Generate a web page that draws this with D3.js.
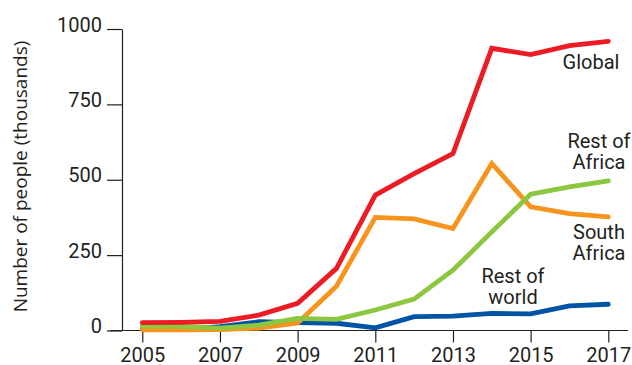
<!DOCTYPE html>
<html>
<head>
<meta charset="utf-8">
<script src="https://cdn.jsdelivr.net/npm/d3@7/dist/d3.min.js"></script>
<style>
  html, body { margin: 0; padding: 0; background: #fff; }
  svg { display: block; }
</style>
</head>
<body>
<svg id="chart" width="632" height="365"></svg>
<script>
const years = [2005, 2006, 2007, 2008, 2009, 2010, 2011, 2012, 2013, 2014, 2015, 2016, 2017];
const globalVals      = [26, 27, 30, 51, 90, 206, 449, 520, 587, 936, 915, 945, 959];
const southAfrica     = [2, 2, 3, 8, 25, 147, 375, 370, 338, 554, 410, 388, 377];
const restOfAfrica    = [15, 14, 8, 18, 40, 37, 68, 104, 200, 327, 452, 476, 496];
const restOfWorld     = [4, 4, 13, 29, 26, 24, 9, 46, 48, 57, 55, 82, 87];
const xTickValues = [2005, 2007, 2009, 2011, 2013, 2015, 2017];
const yTickValues = [0, 250, 500, 750, 1000];
const yAxisTitle = "Number of people (thousands)";

const series = [
  { name: "Rest of world", values: restOfWorld,  color: "#0054A6", label: ["Rest of", "world"],  lx: 513, ly: 283 },
  { name: "South Africa",  values: southAfrica,  color: "#F7941D", label: ["South", "Africa"],   lx: 599, ly: 239 },
  { name: "Rest of Africa",values: restOfAfrica, color: "#8DC63F", label: ["Rest of", "Africa"], lx: 599, ly: 148 },
  { name: "Global",        values: globalVals,   color: "#ED1C24", label: ["Global"],            lx: 591, ly: 69 }
];

const svg = d3.select("#chart");
const x = d3.scaleLinear().domain([2005, 2017]).range([142.3, 608.3]);
const y = d3.scaleLinear().domain([0, 1000]).range([330.5, 29]);

const tickFont = "Roboto, 'DejaVu Sans', sans-serif";
const axisColor = "#231f20";

// x axis baseline (extends beyond the data range)
svg.append("line")
  .attr("x1", 110).attr("x2", 628)
  .attr("y1", y(0)).attr("y2", y(0))
  .attr("stroke", axisColor).attr("stroke-width", 1.2);

const xAxis = svg.append("g")
  .attr("transform", `translate(0,${y(0)})`)
  .call(d3.axisBottom(x).tickValues(xTickValues).tickFormat(d3.format("d"))
        .tickSizeInner(12).tickSizeOuter(0).tickPadding(5.5));
xAxis.select(".domain").remove();
xAxis.selectAll(".tick line").attr("stroke", axisColor).attr("stroke-width", 1.2);
xAxis.selectAll(".tick text")
  .attr("fill", axisColor).style("font-family", tickFont).style("font-size", "20px");

const yAxis = svg.append("g")
  .attr("transform", "translate(122,0)")
  .call(d3.axisLeft(y).tickValues(yTickValues).tickFormat(d3.format("d"))
        .tickSizeInner(15).tickSizeOuter(0).tickPadding(5));
yAxis.select(".domain").attr("stroke", axisColor).attr("stroke-width", 1.2);
yAxis.selectAll(".tick line").attr("stroke", axisColor).attr("stroke-width", 1.2);
yAxis.selectAll(".tick text")
  .attr("fill", axisColor).attr("dy", "0.1em")
  .style("font-family", tickFont).style("font-size", "20px");

// y-axis title
svg.append("text")
  .attr("transform", "translate(27,176.5) rotate(-90)")
  .attr("text-anchor", "middle")
  .attr("fill", axisColor)
  .style("font-family", "'Open Sans', 'Noto Sans', sans-serif")
  .style("font-size", "19px")
  .text(yAxisTitle);

const line = d3.line()
  .x((d, i) => x(years[i]))
  .y(d => y(d));

svg.append("g").selectAll("path")
  .data(series)
  .join("path")
  .attr("d", d => line(d.values))
  .attr("fill", "none")
  .attr("stroke", d => d.color)
  .attr("stroke-width", 4.8)
  .attr("stroke-linecap", "round")
  .attr("stroke-linejoin", "miter");

// series labels (one text element per line)
const labels = svg.append("g");
series.forEach(s => {
  s.label.forEach((ln, i) => {
    labels.append("text")
      .attr("x", s.lx).attr("y", s.ly + i * 21)
      .attr("text-anchor", "middle")
      .attr("fill", axisColor)
      .style("font-family", tickFont)
      .style("font-size", "20px")
      .text(ln);
  });
});
</script>
</body>
</html>
